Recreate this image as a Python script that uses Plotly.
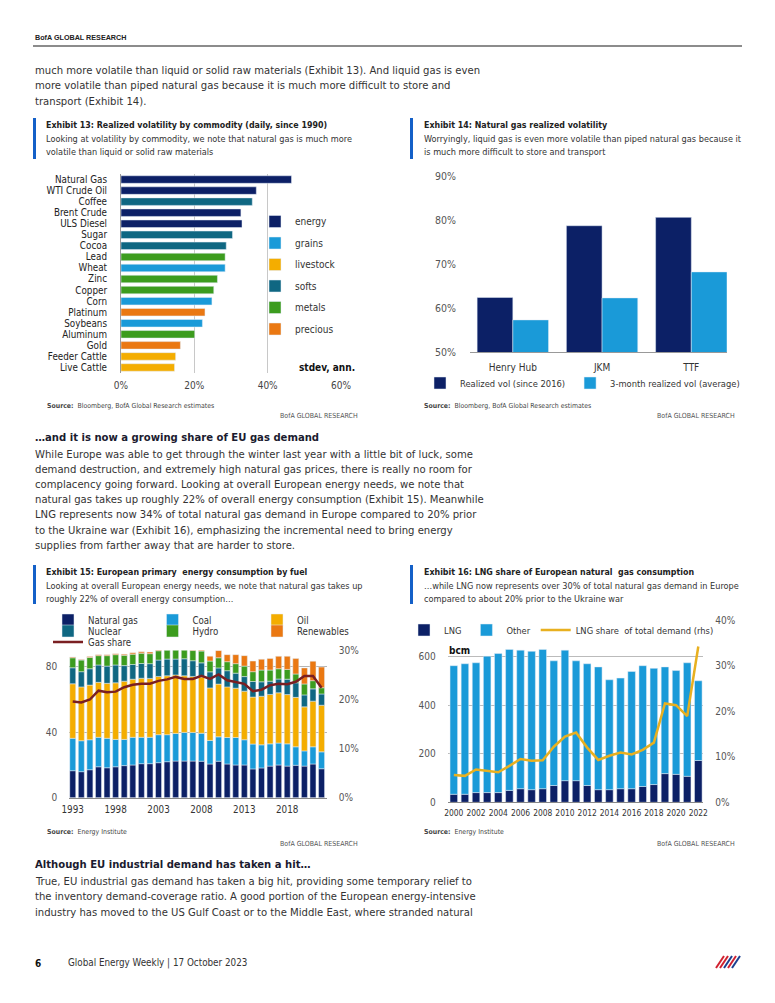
import plotly.graph_objects as go
import numpy as np

W, H = 775, 1003
def px(x): return x / W
def py(y): return 1 - y / H

FONT = "Liberation Sans Narrow, DejaVu Sans Condensed, Arial Narrow, sans-serif"
NAVY = "#0c2066"
LIGHT = "#1a9ad8"
YELLOW = "#f4ad00"
TEAL = "#0f6782"
GREEN = "#3c9c1e"
ORANGE = "#ea7812"

# ---------------- Exhibit 13 data ----------------
ex13_commodities = ["Natural Gas", "WTI Crude Oil", "Coffee", "Brent Crude", "ULS Diesel", "Sugar",
                    "Cocoa", "Lead", "Wheat", "Zinc", "Copper", "Corn", "Platinum", "Soybeans",
                    "Aluminum", "Gold", "Feeder Cattle", "Live Cattle"]
ex13_sector = ["energy", "energy", "softs", "energy", "energy", "softs", "softs", "metals", "grains",
               "metals", "metals", "grains", "precious", "grains", "metals", "precious",
               "livestock", "livestock"]
ex13_vol = [0.465, 0.369, 0.358, 0.327, 0.330, 0.304, 0.287, 0.284, 0.284, 0.263, 0.253, 0.248,
            0.229, 0.222, 0.201, 0.162, 0.149, 0.146]
ex13_sector_order = ["energy", "grains", "livestock", "softs", "metals", "precious"]
ex13_colors = [NAVY, LIGHT, YELLOW, TEAL, GREEN, ORANGE]

# ---------------- Exhibit 14 data ----------------
ex14_hubs = ["Henry Hub", "JKM", "TTF"]
ex14_realized = [0.624, 0.787, 0.806]
ex14_3m = [0.573, 0.623, 0.682]

# ---------------- Exhibit 15 data ----------------
years15 = list(range(1993, 2023))
ex15_gas = [16.5, 15.9, 17.1, 18.9, 18.3, 18.9, 19.6, 20.0, 20.8, 20.8, 21.4, 22.0, 22.4, 22.4, 22.4,
            22.3, 20.6, 22.3, 20.6, 20.0, 20.0, 17.6, 18.2, 19.3, 20.0, 19.3, 19.8, 19.3, 20.6, 17.7]
ex15_coal = [19.8, 18.9, 18.3, 18.0, 18.0, 16.7, 16.0, 16.9, 16.1, 16.1, 17.1, 16.5, 16.9, 17.5, 17.5,
             17.1, 14.4, 14.9, 16.2, 16.8, 15.4, 15.2, 14.1, 13.6, 13.4, 13.6, 11.3, 9.3, 10.5, 10.3]
ex15_oil = [33.3, 32.9, 33.4, 33.6, 33.6, 34.6, 35.6, 35.5, 36.1, 36.0, 35.6, 36.0, 35.7, 34.6, 34.2,
            34.3, 32.1, 32.2, 30.9, 30.1, 29.7, 28.7, 29.7, 30.2, 30.7, 30.1, 30.2, 26.9, 27.9, 28.5]
ex15_nuclear = [9.8, 9.3, 10.0, 10.6, 10.5, 10.9, 9.5, 9.0, 9.0, 9.0, 10.0, 10.2, 9.7, 10.4, 9.6,
                8.7, 9.8, 9.9, 9.9, 9.2, 8.9, 9.5, 8.8, 8.1, 8.4, 9.4, 8.9, 7.3, 7.5, 6.9]
ex15_hydro = [6.1, 7.1, 6.9, 5.7, 6.4, 6.3, 6.3, 6.3, 6.3, 6.1, 5.7, 5.7, 5.9, 5.7, 6.2,
              7.2, 6.6, 6.2, 5.5, 5.8, 6.4, 6.0, 7.2, 6.8, 6.3, 6.0, 5.4, 6.7, 5.0, 3.8]
ex15_renew = [0.5, 0.4, 0.5, 0.6, 0.6, 0.6, 0.7, 0.8, 0.8, 1.0, 0.9, 1.1, 1.3, 1.5, 0.9,
              0.7, 3.0, 4.4, 4.3, 5.5, 6.4, 6.5, 6.6, 7.1, 7.6, 8.0, 9.4, 9.8, 11.9, 12.6]
ex15_gas_share = [0.196, 0.194, 0.200, 0.218, 0.215, 0.216, 0.225, 0.230, 0.232, 0.232, 0.238, 0.241,
                  0.246, 0.242, 0.242, 0.248, 0.242, 0.251, 0.239, 0.235, 0.232, 0.217, 0.220, 0.229,
                  0.232, 0.231, 0.236, 0.248, 0.248, 0.224]
ex15_fuels = ["Natural gas", "Coal", "Oil", "Nuclear", "Hydro", "Renewables"]

# ---------------- Exhibit 16 data ----------------
years16 = list(range(2000, 2023))
ex16_lng = [33, 33, 40, 40, 40, 49, 56, 52, 56, 69, 89, 89, 69, 52, 52, 56, 56, 65, 73, 118, 115, 107, 172]
ex16_total = [562, 570, 574, 601, 612, 629, 626, 621, 629, 582, 626, 582, 570, 557, 504, 511, 538, 562,
              551, 557, 542, 574, 500]
ex16_lng_share = [0.060, 0.058, 0.072, 0.069, 0.066, 0.080, 0.095, 0.091, 0.092, 0.122, 0.144, 0.153,
                  0.120, 0.093, 0.102, 0.109, 0.105, 0.115, 0.131, 0.217, 0.213, 0.189, 0.342]
ex16_other = [t - l for t, l in zip(ex16_total, ex16_lng)]

fig = go.Figure()

# ---- Exhibit 13 bars
for sec, col in zip(ex13_sector_order, ex13_colors):
    ys = [c for c, s in zip(ex13_commodities, ex13_sector) if s == sec]
    xs = [v for v, s in zip(ex13_vol, ex13_sector) if s == sec]
    fig.add_trace(go.Bar(x=xs, y=ys, orientation="h", name=sec, marker_color=col, width=0.68,
                         xaxis="x", yaxis="y", legend="legend", legendgroup=sec))

# ---- Exhibit 14 bars
fig.add_trace(go.Bar(x=ex14_hubs, y=ex14_realized, name="Realized vol (since 2016)", marker_color=NAVY,
                     width=0.4, offset=-0.4, xaxis="x2", yaxis="y2", legend="legend2"))
fig.add_trace(go.Bar(x=ex14_hubs, y=ex14_3m, name="3-month realized vol (average)", marker_color=LIGHT,
                     width=0.4, offset=0.0, xaxis="x2", yaxis="y2", legend="legend2"))

# ---- Exhibit 15 stacked bars
ex15_vals = [ex15_gas, ex15_coal, ex15_oil, ex15_nuclear, ex15_hydro, ex15_renew]
ex15_cols = [NAVY, LIGHT, YELLOW, TEAL, GREEN, ORANGE]
ex15_leg = ["legend3", "legend3", "legend3", "legend5", "legend5", "legend5"]
base = np.zeros(len(years15))
for name, vals, col, lg in zip(ex15_fuels, ex15_vals, ex15_cols, ex15_leg):
    fig.add_trace(go.Bar(x=years15, y=vals, base=base.tolist(), name=name, marker_color=col, width=0.7,
                         xaxis="x3", yaxis="y3", legend=lg))
    base = base + np.array(vals)
fig.add_trace(go.Scatter(x=years15, y=ex15_gas_share, mode="lines", name="Gas share",
                         line=dict(color="#7a1f22", width=2.5), xaxis="x3", yaxis="y4", legend="legend6"))

# ---- Exhibit 16
fig.add_trace(go.Bar(x=years16, y=ex16_lng, name="LNG", marker_color=NAVY, width=0.68,
                     xaxis="x4", yaxis="y5", legend="legend4"))
fig.add_trace(go.Bar(x=years16, y=ex16_other, base=ex16_lng, name="Other", marker_color=LIGHT, width=0.68,
                     xaxis="x4", yaxis="y5", legend="legend4"))
fig.add_trace(go.Scatter(x=years16, y=ex16_lng_share, mode="lines", name="LNG share  of total demand (rhs)",
                         line=dict(color="#e8b020", width=2.5), xaxis="x4", yaxis="y6", legend="legend4"))

clear = "rgba(0,0,0,0)"
tf = lambda s, c="#444": dict(family=FONT, size=s, color=c)

fig.update_layout(
    width=W, height=H, margin=dict(l=0, r=0, t=0, b=0), paper_bgcolor="white", plot_bgcolor="white",
    barmode="overlay", font=dict(family=FONT, color="#333"), showlegend=True,
    xaxis=dict(domain=[px(121), px(341)], anchor="y", range=[0, 0.6], tickvals=[0, 0.2, 0.4, 0.6],
               tickformat=".0%", showgrid=True, gridcolor="#c8c8c8", zeroline=False, showline=False,
               ticks="outside", ticklen=3, tickcolor=clear, tickfont=tf(10, "#444"), automargin=False),
    yaxis=dict(domain=[py(373), py(174)], anchor="x", type="category", categoryorder="array",
               categoryarray=ex13_commodities, tickvals=ex13_commodities, autorange="reversed",
               showline=True, linecolor="#999", ticks="outside", ticklen=11, tickcolor=clear,
               tickfont=tf(9.8, "#222"), showgrid=False, automargin=False),
    xaxis2=dict(domain=[px(470), px(727)], anchor="y2", type="category", range=[-0.48, 2.40],
                showline=True, linecolor="#999", ticks="outside", ticklen=6, tickcolor=clear,
                tickfont=tf(10, "#333"), showgrid=False, automargin=False),
    yaxis2=dict(domain=[py(352), py(176)], anchor="x2", range=[0.5, 0.9], tickvals=[0.5, 0.6, 0.7, 0.8, 0.9],
                tickformat=".0%", showgrid=False, zeroline=False, ticks="outside", ticklen=11, tickcolor=clear,
                tickfont=tf(10.5, "#555"), automargin=False),
    xaxis3=dict(domain=[px(69.3), px(326.7)], anchor="y3", range=[1992.6, 2022.6],
                tickvals=[1993, 1998, 2003, 2008, 2013, 2018], showline=True, linecolor="#888",
                ticks="outside", ticklen=3, tickcolor=clear, tickfont=tf(9.8, "#333"), showgrid=False,
                zeroline=False, automargin=False),
    yaxis3=dict(domain=[py(797.7), py(650.4)], anchor="x3", range=[0, 90], tickvals=[0, 40, 80],
                showgrid=True, gridcolor="#b5b5b5", zeroline=False, ticks="outside", ticklen=9,
                tickcolor=clear, tickfont=tf(10, "#555"), automargin=False),
    yaxis4=dict(overlaying="y3", side="right", anchor="x3", range=[0, 0.3], tickvals=[0, 0.1, 0.2, 0.3],
                tickformat=".0%", showgrid=False, zeroline=False, ticks="outside", ticklen=9,
                tickcolor=clear, tickfont=tf(10, "#555"), automargin=False),
    xaxis4=dict(domain=[px(447.7), px(703.3)], anchor="y5", range=[1999.45, 2022.45],
                tickvals=list(range(2000, 2023, 2)), tickangle=0, showline=True, linecolor="#888",
                ticks="outside", ticklen=3, tickcolor=clear, tickfont=tf(8.4, "#333"), showgrid=False,
                zeroline=False, automargin=False),
    yaxis5=dict(domain=[py(802.3), py(620)], anchor="x4", range=[0, 750], tickvals=[0, 200, 400, 600],
                showgrid=True, gridcolor="#bbbbbb", zeroline=False, ticks="outside", ticklen=9,
                tickcolor=clear, tickfont=tf(10, "#555"), automargin=False),
    yaxis6=dict(overlaying="y5", side="right", anchor="x4", range=[0, 0.4],
                tickvals=[0, 0.1, 0.2, 0.3, 0.4], tickformat=".0%", showgrid=False, zeroline=False,
                ticks="outside", ticklen=9, tickcolor=clear, tickfont=tf(10, "#555"), automargin=False),
    legend=dict(x=px(255), y=py(207), xanchor="left", yanchor="top", font=tf(10, "#333"),
                bgcolor=clear, tracegroupgap=2.5, traceorder="grouped"),
    legend2=dict(orientation="h", x=px(420), y=py(383), xanchor="left", yanchor="middle",
                 font=tf(9.3, "#333"), bgcolor=clear),
    legend3=dict(orientation="h", x=px(48), y=py(620), xanchor="left", yanchor="middle",
                 font=tf(9.6, "#333"), bgcolor=clear, entrywidth=59.5),
    legend5=dict(orientation="h", x=px(48), y=py(631), xanchor="left", yanchor="middle",
                 font=tf(9.6, "#333"), bgcolor=clear, entrywidth=59.5),
    legend6=dict(orientation="h", x=px(48), y=py(642), xanchor="left", yanchor="middle",
                 font=tf(9.6, "#333"), bgcolor=clear),
    legend4=dict(orientation="h", x=px(404), y=py(630), xanchor="left", yanchor="middle",
                 font=tf(9.3, "#333"), bgcolor=clear),
)

ann = []
def txt(x, y, text, size=11.2, color="#333", anchor="left", bold=False):
    ann.append(dict(x=px(x), y=py(y), xref="paper", yref="paper", text=("<b>%s</b>" % text) if bold else text,
                    showarrow=False, xanchor=anchor, yanchor="middle",
                    font=dict(family=FONT, size=size, color=color)))

# header
ann.append(dict(x=px(33), y=py(38), xref="paper", yref="paper", text="<b>BofA GLOBAL RESEARCH</b>",
                showarrow=False, xanchor="left", yanchor="middle",
                font=dict(family="Liberation Sans, Arial, sans-serif", size=7.2, color="#222")))

para1 = ["much more volatile than liquid or solid raw materials (Exhibit 13). And liquid gas is even",
         "more volatile than piped natural gas because it is much more difficult to store and",
         "transport (Exhibit 14)."]
for i, line in enumerate(para1):
    txt(33, 70 + 16 * i, line)

TS, SS = 8.8, 9.1
# exhibit 13/14 titles
txt(44, 125, "Exhibit 13: Realized volatility by commodity (daily, since 1990)", TS, "#222", bold=True)
txt(44, 139, "Looking at volatility by commodity, we note that natural gas is much more", SS, "#333")
txt(44, 152, "volatile than liquid or solid raw materials", SS, "#333")
txt(422, 125, "Exhibit 14: Natural gas realized volatility", TS, "#222", bold=True)
txt(422, 139, "Worryingly, liquid gas is even more volatile than piped natural gas because it", SS, "#333")
txt(422, 152, "is much more difficult to store and transport", SS, "#333")
txt(357, 368, "stdev, ann.", 10, "#111", anchor="right", bold=True)

txt(45, 406, "<b>Source:</b>  Bloomberg, BofA Global Research estimates", 6.9, "#444")
txt(360, 416, "BofA GLOBAL RESEARCH", 7, "#555", anchor="right")
txt(422, 406, "<b>Source:</b>  Bloomberg, BofA Global Research estimates", 6.9, "#444")
txt(737, 416, "BofA GLOBAL RESEARCH", 7, "#555", anchor="right")

txt(33, 437, "…and it is now a growing share of EU gas demand", 11.2, "#1b1b2f", bold=True)
para2 = ["While Europe was able to get through the winter last year with a little bit of luck, some",
         "demand destruction, and extremely high natural gas prices, there is really no room for",
         "complacency going forward. Looking at overall European energy needs, we note that",
         "natural gas takes up roughly 22% of overall energy consumption (Exhibit 15). Meanwhile",
         "LNG represents now 34% of total natural gas demand in Europe compared to 20% prior",
         "to the Ukraine war (Exhibit 16), emphasizing the incremental need to bring energy",
         "supplies from farther away that are harder to store."]
for i, line in enumerate(para2):
    txt(33, 454 + 15.2 * i, line)

txt(44, 572, "Exhibit 15: European primary  energy consumption by fuel", TS, "#222", bold=True)
txt(44, 586, "Looking at overall European energy needs, we note that natural gas takes up", SS, "#333")
txt(44, 599, "roughly 22% of overall energy consumption…", SS, "#333")
txt(422, 572, "Exhibit 16: LNG share of European natural  gas consumption", TS, "#222", bold=True)
txt(422, 586, "…while LNG now represents over 30% of total natural gas demand in Europe", SS, "#333")
txt(422, 599, "compared to about 20% prior to the Ukraine war", SS, "#333")
txt(447, 650, "bcm", 10, "#111", bold=True)

txt(45, 832, "<b>Source:</b>  Energy Institute", 6.9, "#444")
txt(360, 844, "BofA GLOBAL RESEARCH", 7, "#555", anchor="right")
txt(422, 832, "<b>Source:</b>  Energy Institute", 6.9, "#444")
txt(737, 844, "BofA GLOBAL RESEARCH", 7, "#555", anchor="right")

txt(33, 864, "Although EU industrial demand has taken a hit…", 11.2, "#1b1b2f", bold=True)
para3 = ["True, EU industrial gas demand has taken a big hit, providing some temporary relief to",
         "the inventory demand-coverage ratio. A good portion of the European energy-intensive",
         "industry has moved to the US Gulf Coast or to the Middle East, where stranded natural"]
for i, line in enumerate(para3):
    txt(33, 881 + 15.5 * i, line)

txt(33, 963, "6", 10, "#111", bold=True)
txt(66, 963, "Global Energy Weekly | 17 October 2023", 9.8, "#333")

fig.update_layout(annotations=ann)

shapes = []
# header rule
shapes.append(dict(type="line", xref="paper", yref="paper", x0=px(33), x1=px(742), y0=py(46), y1=py(46),
                   line=dict(color="#666", width=1.5)))
# exhibit accent bars
for (x0, y0, y1) in [(33, 118, 159), (410, 118, 159), (33, 565, 604), (410, 565, 604)]:
    shapes.append(dict(type="rect", xref="paper", yref="paper", x0=px(x0), x1=px(x0 + 3), y0=py(y1), y1=py(y0),
                       fillcolor="#1460c8", line=dict(width=0)))
# logo (flag stripes)
for i, col in enumerate(["#d0202f", "#d0202f", "#1b3f8f", "#d0202f", "#1b3f8f"]):
    shapes.append(dict(type="line", xref="paper", yref="paper", x0=px(716 + i * 4), y0=py(968),
                       x1=px(724 + i * 4), y1=py(956), line=dict(color=col, width=2)))
fig.update_layout(shapes=shapes)

fig.write_html("out.html", config={"displayModeBar": False, "staticPlot": True},
               post_script="document.body.style.margin='0px';")
